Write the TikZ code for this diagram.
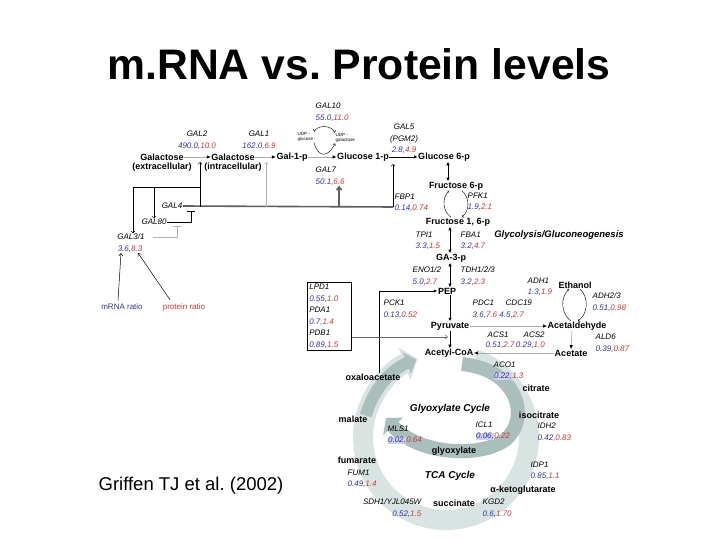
\documentclass[tikz,border=0pt]{standalone}
\usepackage{fontspec}
\setmainfont{Liberation Sans}
\usetikzlibrary{arrows.meta,positioning,calc}
\definecolor{mblue}{RGB}{52,52,160}
\definecolor{mred}{RGB}{205,55,55}
\definecolor{hlblue}{RGB}{205,210,240}
\definecolor{ringlight}{RGB}{217,228,226}
\definecolor{ringdark}{RGB}{170,190,188}
\definecolor{regline}{RGB}{95,95,95}
\newcommand{\ratios}[2]{\textcolor{mblue}{#1,}\textcolor{mred}{#2}}
\newcommand{\ratiosh}[2]{{\setlength{\fboxsep}{0.4pt}\colorbox{hlblue}{\textcolor{mblue}{#1,}}}\textcolor{mred}{#2}}
\frenchspacing
\begin{document}
\begin{tikzpicture}[x=1pt,y=-1pt,
	met/.style={font=\fontsize{9}{10.5}\selectfont\bfseries,inner sep=0.5pt,align=center},
	gene/.style={font=\fontsize{8}{11.5}\selectfont\itshape,inner sep=0.5pt,align=center},
	lgene/.style={gene,anchor=west,align=left},
	udp/.style={font=\fontsize{4.5}{5.5}\selectfont,inner sep=0.5pt,anchor=west,align=left},
	cyc/.style={font=\fontsize{10}{12}\selectfont\bfseries\itshape,inner sep=0.5pt},
	rx/.style={draw=gray!65,line width=0.7pt,-{Latex[color=black,length=4pt,width=3.5pt]}},
	bi/.style={line width=0.7pt,{Latex[length=3.5pt,width=3.5pt]}-{Latex[length=3.5pt,width=3.5pt]}},
	fw/.style={line width=0.7pt,-{Latex[length=3.5pt,width=3.5pt]}},
	act/.style={line width=0.5pt,-{Straight Barb[length=2pt,width=4pt]}},
	inh/.style={line width=0.5pt,-{Bar[width=8pt]}},
	curl/.style={line width=0.4pt,-{Straight Barb[length=1.5pt,width=3pt]}},
	ptr/.style={line width=0.5pt,-{Straight Barb[length=2.5pt,width=4pt]}}]
	\fill[white] (0,0) rectangle (720,540);
	\useasboundingbox (0,0) rectangle (720,540);

	\node[font=\fontsize{42.7}{48}\selectfont\bfseries,anchor=base] (title) at (359,80) {m.RNA vs. Protein levels};
	\node[font=\fontsize{18.5}{20}\selectfont,anchor=base] (ref) at (191,490) {Griffen TJ et al. (2002)};

	% cycles in the background
	\draw[ringlight,line width=20pt,-{Triangle[length=14pt,width=34pt]}] (446,437) ++(290:83) arc[start angle=290,end angle=610,radius=83];
	\draw[ringdark,line width=14pt,-{Triangle[length=11pt,width=26pt]}] (462,364) .. controls (520,370) and (530,420) .. (505,440) .. controls (480,458) and (418,455) .. (386,418);
	\draw[ringdark,line width=12pt,-{Triangle[length=10pt,width=22pt]}] (446,437) ++(195:83) arc[start angle=195,end angle=249,radius=83];

	% galactose
	\node[met] (galex) at (162,157) {Galactose};
	\node[met] (galexl) at (162,167) {(extracellular)};
	\node[met] (galin) at (233,157) {Galactose};
	\node[met] (galinl) at (233,167) {(intracellular)};
	\node[met] (gal1p) at (292,157) {Gal-1-p};
	\node[met] (glc1p) at (363,157) {Glucose 1-p};
	\node[met] (glc6p) at (444,157) {Glucose 6-p};
	\node[gene] (gal2) at (197,140) {GAL2\\\ratios{490.0}{10.0}};
	\node[gene] (gal1) at (259,140) {GAL1\\\ratios{162.0}{6.9}};
	\node[lgene] (gal10) at (315,112) {GAL10\\\ratios{55.0}{11.0}};
	\node[udp] (udpg) at (297,137) {UDP -\\glucose};
	\node[udp] (udpga) at (335,138) {UDP -\\galactose};
	\node[lgene] (gal7) at (315,176) {GAL7\\\ratios{50.1}{6.6}};
	\node[gene] (gal5) at (404,139) {GAL5\\(PGM2)\\\ratios{2.8}{4.9}};

	\draw[rx] (galex) -- (galin);
	\draw[rx] (galin) -- (gal1p);
	\draw[rx] (gal1p) -- (glc1p);
	\draw[fw] (glc1p) -- (glc6p);
	\draw[curl,{Straight Barb[length=1.5pt,width=3pt]}-{Straight Barb[length=1.5pt,width=3pt]}] (udpg.north east) to[bend left=60] (udpga.north west);
	\draw[curl] (udpg.south east) .. controls (318,158) and (328,158) .. (udpga.south west);

	% regulation
	\node[gene] (gal4) at (172,206) {GAL4};
	\node[gene] (gal80) at (154,222) {GAL80};
	\node[gene] (gal3) at (131,237) {GAL3/1};
	\node[gene] (gal3n) at (130,249) {\ratios{3.6}{8.3}};
	\node[font=\fontsize{8}{10}\selectfont,text=mblue] (mrna) at (122,307) {mRNA ratio};
	\node[font=\fontsize{8}{10}\selectfont,text=mred] (prot) at (184,307) {protein ratio};
	\coordinate (g4e) at (393,207);
	\coordinate (a2) at (200,162);
	\coordinate (a1) at (266,162);
	\coordinate (pgm) at (393,164);
	\coordinate (lt) at (133,187);
	\coordinate (lr) at (200,187);
	\coordinate (bar4) at (191,211);
	\coordinate (bar80) at (177,226);
	\draw[regline,line width=1.6pt] (gal4.east) -- (g4e);
	\draw[act] (g4e) -- (pgm);
	\draw[act] (a2 |- g4e) -- (a2);
	\draw[act,gray!60] (a1 |- g4e) -- (a1);
	\draw[regline,line width=1.6pt,-{Straight Barb[length=3pt,width=5pt]}] ([xshift=9pt]gal7.south |- g4e) -- ([xshift=9pt]gal7.south);
	\draw[line width=0.5pt] (lt) -- (lr);
	\draw[act] (lt) -- (lt |- gal3.north);
	\draw[act] (gal80.north |- lt) -- (gal80.north);
	\draw[inh] (gal80.east) -| (bar4);
	\draw[inh,gray!60] ([xshift=8pt]gal3.east) -| (bar80);
	\draw[ptr] ([xshift=-4pt]mrna.north) -- ([xshift=-9pt]gal3n.south);
	\draw[ptr] ([xshift=-14pt]prot.north) -- ([xshift=8pt]gal3n.south);

	% glycolysis
	\node[met] (fru6p) at (456,186) {Fructose 6-p};
	\node[met] (fbp) at (458,222) {Fructose 1, 6-p};
	\node[met] (ga3p) at (451,258) {GA-3-p};
	\node[met] (pep) at (447,291) {PEP};
	\node[met] (pyr) at (450,326) {Pyruvate};
	\node[met] (acoa) at (449,353) {Acetyl-CoA};
	\node[lgene] (fbp1) at (394,203) {FBP1\\\ratios{0.14}{0.74}};
	\node[lgene] (pfk1) at (467,202) {PFK1\\\ratios{1.9}{2.1}};
	\node[lgene] (tpi1) at (415,241) {TPI1\\\ratios{3.3}{1.5}};
	\node[lgene] (fba1) at (460,241) {FBA1\\\ratios{3.2}{4.7}};
	\node[lgene] (eno) at (412,276) {ENO1/2\\\ratios{5.0}{2.7}};
	\node[lgene] (tdh) at (460,276) {TDH1/2/3\\\ratios{3.2}{2.3}};
	\node[cyc,font=\fontsize{9.5}{11}\selectfont\bfseries\itshape] (glyc) at (559,235) {Glycolysis/Gluconeogenesis};

	\draw[bi] ([xshift=4pt]glc6p.south) -- ([xshift=-8pt]fru6p.north);
	\draw[curl] ([xshift=-7pt]fbp.north) to[bend left=50] ([xshift=-7pt]fru6p.south);
	\draw[curl] ([xshift=6pt]fru6p.south) to[bend left=50] ([xshift=4pt]fbp.north);
	\draw[bi] ([xshift=-8pt]fbp.south) -- ([xshift=-1pt]ga3p.north);
	\draw[bi] ([xshift=-1pt]ga3p.south) -- ([xshift=3pt]pep.north);
	\draw[fw] ([xshift=3pt]pep.south) -- (pyr.north);
	\draw[fw] (pyr.south) -- ([xshift=1pt]acoa.north);

	% fermentation
	\node[met] (etoh) at (575,285) {Ethanol};
	\node[met] (acald) at (577,326) {Acetaldehyde};
	\node[met] (ace) at (571,353) {Acetate};
	\node[lgene] (adh1) at (527,287) {ADH1\\\ratios{1.3}{1.9}};
	\node[lgene] (adh2) at (592,302) {ADH2/3\\\ratios{0.51}{0.98}};
	\node[lgene] (ald6) at (595,343) {ALD6\\\ratios{0.39}{0.87}};
	\node[lgene] (pck1) at (383,309) {PCK1\\\ratios{0.13}{0.52}};
	\node[lgene] (pdc1) at (472,303) {PDC1};
	\node[lgene] (cdc19) at (505,303) {CDC19};
	\node[lgene] (pdcn) at (472,315) {\ratios{3.6}{7.6} \ratios{4.5}{2.7}};
	\node[lgene] (acs1) at (487,335) {ACS1};
	\node[lgene] (acs2) at (523,335) {ACS2};
	\node[lgene] (acsn) at (485,345) {\ratios{0.51}{2.7}\,\ratios{0.29}{1.0}};
	\node[gene,draw,align=left,line width=0.6pt,inner sep=2pt,text width=40pt,anchor=north west] (pdh) at (307,282) {LPD1\\\ratios{0.55}{1.0}\\PDA1\\\ratios{0.7}{1.4}\\PDB1\\\ratios{0.89}{1.5}};
	\node[met] (oaa) at (373,377) {oxaloacetate};
	\coordinate (pdhin) at (448,337);

	\draw[rx] (pyr) -- (acald);
	\draw[rx] ([xshift=-5pt]acald.south) -- (ace.north);
	\draw[rx] (ace) -- (acoa);
	\draw[curl] ([xshift=-6pt]acald.north) to[bend left=50] ([xshift=-6pt]etoh.south);
	\draw[curl] ([xshift=5pt]etoh.south) to[bend left=50] ([xshift=1pt]acald.north);
	\draw[fw] ([xshift=6pt]oaa.north) |- (pep.west);
	\draw[ptr,gray!80!black] (pdh.east |- pdhin) -- (pdhin);

	% TCA and glyoxylate cycle
	\node[met] (cit) at (536,388) {citrate};
	\node[met] (icit) at (539,415) {isocitrate};
	\node[met] (mal) at (353,419) {malate};
	\node[met] (glx) at (454,451) {glyoxylate};
	\node[met] (fum) at (357,460) {fumarate};
	\node[met] (akg) at (523,490) {α-ketoglutarate};
	\node[met] (suc) at (454,503) {succinate};
	\node[cyc] (glxc) at (450,409) {Glyoxylate Cycle};
	\node[cyc] (tca) at (450,476) {TCA Cycle};
	\node[lgene] (aco1) at (493,371) {ACO1\\\ratiosh{0.22}{1.3}};
	\node[lgene] (icl1) at (475,431) {ICL1\\\ratiosh{0.06}{0.22}};
	\node[lgene] (idh2) at (537,432) {IDH2\\\ratios{0.42}{0.83}};
	\node[lgene] (mls1) at (387,435) {MLS1\\\ratiosh{0.02}{0.64}};
	\node[lgene] (idp1) at (530,471) {IDP1\\\ratios{0.85}{1.1}};
	\node[lgene] (fum1) at (347,479) {FUM1\\\ratios{0.49}{1.4}};
	\node[gene,anchor=east,align=right] (sdh) at (422,508) {SDH1/YJL045W\\\ratios{0.52}{1.5}};
	\node[lgene] (kgd2) at (482,508) {KGD2\\\ratios{0.6}{1.70}};
\end{tikzpicture}
\end{document}
